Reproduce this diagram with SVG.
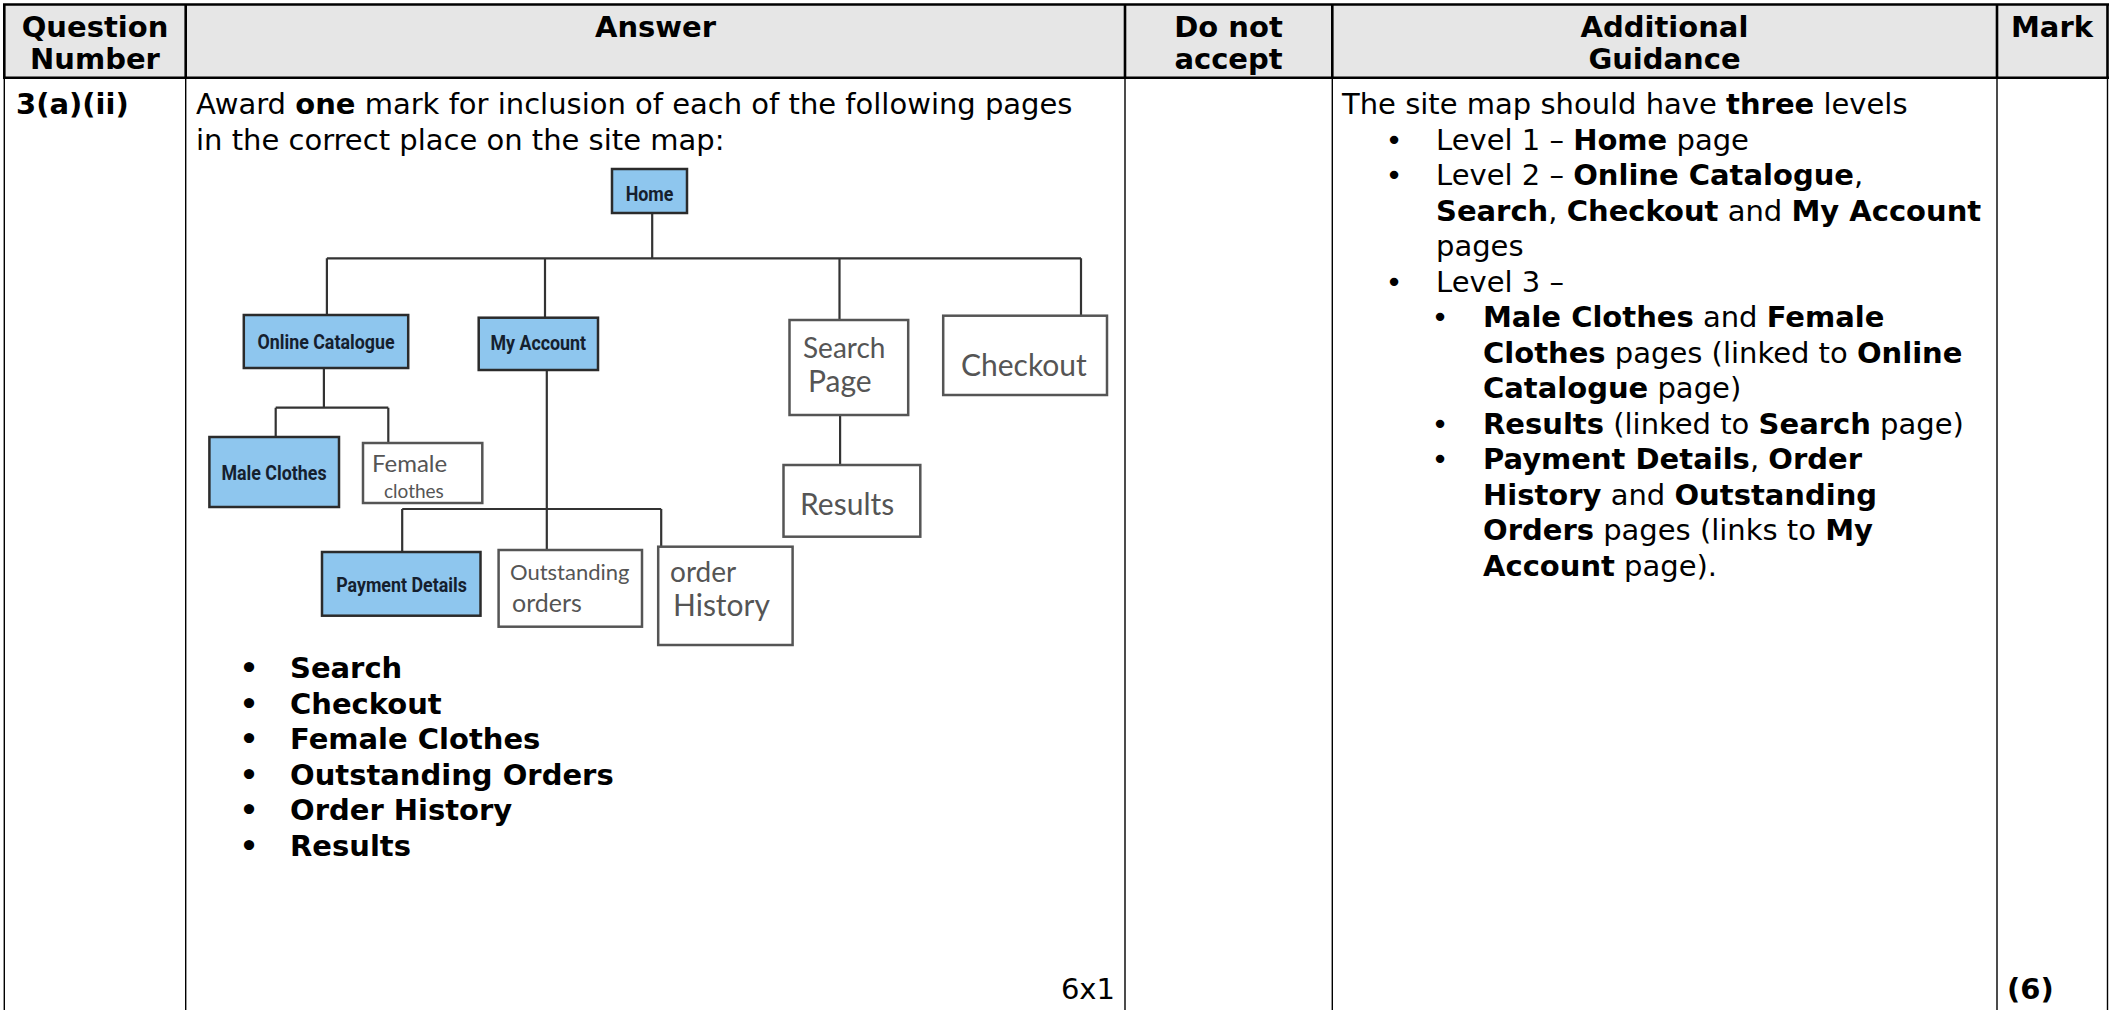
<svg xmlns="http://www.w3.org/2000/svg" width="2114" height="1010" viewBox="0 0 2114 1010">
<style>
.t{font-family:"DejaVu Sans",Verdana,sans-serif;font-size:29px;fill:#000}
.b{font-weight:bold}
.c{text-anchor:middle}
.hl{stroke:#000;stroke-width:2.6;fill:none}
.bl{stroke:#000;stroke-width:1.4;fill:none}
.blue rect{fill:#8ec6ee;stroke:#2b2b2b;stroke-width:2.5}
.blue text{font-family:Roboto,"DejaVu Sans",sans-serif;font-weight:bold;font-size:21px;fill:#15202e;text-anchor:middle}
.hand rect{fill:#fff;stroke:#555;stroke-width:2.5}
.hand text{font-family:Lato,"Open Sans",sans-serif;font-weight:400;fill:#555}
.conn path{stroke:#333;stroke-width:2.2;fill:none}
</style>
<rect width="2114" height="1010" fill="#fff"/>
<g id="table">
<rect x="4" y="4.5" width="2103.5" height="73.2" fill="#e6e6e6"/>
<path class="hl" d="M3,4.5H2109M3,77.7H2109M4.3,4V78M185.7,4V78M1125,4V78M1332.3,4V78M1997,4V78M2107.5,4V78"/>
<path class="bl" d="M4.3,78V1010M185.7,78V1010M1125,78V1010M1332.3,78V1010M1997,78V1010M2107.5,78V1010"/>
</g>
<g id="header" class="t b c">
<text x="95" y="37">Question</text>
<text x="95" y="69">Number</text>
<text x="655.5" y="37">Answer</text>
<text x="1228.5" y="37">Do not</text>
<text x="1228.5" y="69">accept</text>
<text x="1664.5" y="37">Additional</text>
<text x="1664.5" y="69">Guidance</text>
<text x="2052" y="37">Mark</text>
</g>
<g id="body" class="t">
<text class="b" x="16" y="114">3(a)(ii)</text>
<text x="196" y="114">Award <tspan class="b">one</tspan> mark for inclusion of each of the following pages</text>
<text x="196" y="149.5">in the correct place on the site map:</text>
<g class="b">
<text x="249" y="678" class="c">•</text><text x="290" y="678">Search</text>
<text x="249" y="713.5" class="c">•</text><text x="290" y="713.5">Checkout</text>
<text x="249" y="749" class="c">•</text><text x="290" y="749">Female Clothes</text>
<text x="249" y="784.5" class="c">•</text><text x="290" y="784.5">Outstanding Orders</text>
<text x="249" y="820" class="c">•</text><text x="290" y="820">Order History</text>
<text x="249" y="855.5" class="c">•</text><text x="290" y="855.5">Results</text>
</g>
<text x="1115" y="999" text-anchor="end">6x1</text>
<text x="1342" y="114">The site map should have <tspan class="b">three</tspan> levels</text>
<text x="1394" y="149.5" class="c">•</text>
<text x="1436" y="149.5">Level 1 – <tspan class="b">Home</tspan> page</text>
<text x="1394" y="185" class="c">•</text>
<text x="1436" y="185">Level 2 – <tspan class="b">Online Catalogue</tspan>,</text>
<text x="1436" y="220.5"><tspan class="b">Search</tspan>, <tspan class="b">Checkout</tspan> and <tspan class="b">My Account</tspan></text>
<text x="1436" y="256">pages</text>
<text x="1394" y="291.5" class="c">•</text>
<text x="1436" y="291.5">Level 3 –</text>
<text x="1440" y="327" class="c">•</text>
<text x="1483" y="327"><tspan class="b">Male Clothes</tspan> and <tspan class="b">Female</tspan></text>
<text x="1483" y="362.5"><tspan class="b">Clothes</tspan> pages (linked to <tspan class="b">Online</tspan></text>
<text x="1483" y="398"><tspan class="b">Catalogue</tspan> page)</text>
<text x="1440" y="433.5" class="c">•</text>
<text x="1483" y="433.5"><tspan class="b">Results</tspan> (linked to <tspan class="b">Search</tspan> page)</text>
<text x="1440" y="469" class="c">•</text>
<text x="1483" y="469"><tspan class="b">Payment Details</tspan>, <tspan class="b">Order</tspan></text>
<text x="1483" y="504.5"><tspan class="b">History</tspan> and <tspan class="b">Outstanding</tspan></text>
<text x="1483" y="540"><tspan class="b">Orders</tspan> pages (links to <tspan class="b">My</tspan></text>
<text x="1483" y="575.5"><tspan class="b">Account</tspan> page).</text>
<text x="2007" y="999" class="b">(6)</text>
</g>
<g id="connectors" class="conn">
<path d="M652.2,213V258.3M326.9,258.3H1081M326.9,258.3V315M545,258.3V317.7M839.5,258.3V320M1081,258.3V315.7"/>
<path d="M323.9,368V407.7M275.7,407.7H388.3M275.7,407.7V437M388.3,407.7V443"/>
<path d="M546.8,370V509M402.2,509H661.2M402.2,509V552M546.8,509V550M661.2,509V546.7"/>
<path d="M840.1,415V465"/>
</g>
<g id="node-home" class="blue"><rect x="612" y="169" width="75" height="44"/><text transform="translate(649.5 201) scale(0.85 1)">Home</text></g>
<g id="node-online-catalogue" class="blue"><rect x="243.8" y="315" width="164.4" height="53"/><text transform="translate(326 349) scale(0.85 1)">Online Catalogue</text></g>
<g id="node-my-account" class="blue"><rect x="478.7" y="317.7" width="119.3" height="52.3"/><text transform="translate(538.3 350) scale(0.85 1)">My Account</text></g>
<g id="node-male-clothes" class="blue"><rect x="209.4" y="437" width="129.6" height="70"/><text transform="translate(274 480) scale(0.85 1)">Male Clothes</text></g>
<g id="node-payment-details" class="blue"><rect x="322" y="552" width="158.5" height="63.7"/><text transform="translate(401.5 592) scale(0.85 1)">Payment Details</text></g>
<g id="node-search-page" class="hand"><rect x="789.5" y="320" width="118.7" height="95"/><text x="803" y="358" font-size="28">Search</text><text x="808" y="392" font-size="30">Page</text></g>
<g id="node-checkout" class="hand"><rect x="943.2" y="315.7" width="163.8" height="79.3"/><text x="961" y="376" font-size="30">Checkout</text></g>
<g id="node-female-clothes" class="hand"><rect x="363" y="443" width="119.3" height="60"/><text x="372" y="472" font-size="24">Female</text><text x="384" y="498" font-size="19">clothes</text></g>
<g id="node-results" class="hand"><rect x="783.5" y="465" width="136.8" height="71.7"/><text x="800" y="515" font-size="30">Results</text></g>
<g id="node-outstanding-orders" class="hand"><rect x="498.6" y="550" width="143.4" height="76.7"/><text x="510" y="580" font-size="22">Outstanding</text><text x="512" y="612" font-size="25">orders</text></g>
<g id="node-order-history" class="hand"><rect x="658.2" y="546.7" width="134.4" height="98.3"/><text x="670" y="582" font-size="28">order</text><text x="673" y="616" font-size="30">History</text></g>
</svg>
